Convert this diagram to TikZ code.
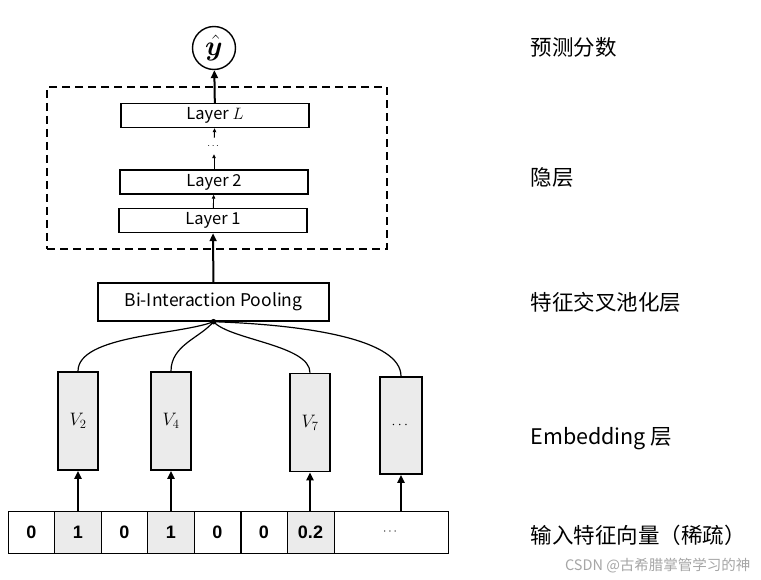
\RequirePackage{fix-cm}
\documentclass[tikz,border=0pt]{standalone}
\usepackage{amsmath,amssymb,bm}
\usepackage{fontspec}
\newfontfamily\cjk{Noto Sans CJK SC}
\newfontfamily\numfont{Liberation Sans}
\usetikzlibrary{arrows.meta, positioning}

\begin{document}
\begin{tikzpicture}[x=1pt, y=-1pt,
    layer/.style={draw, line width=1.4pt, minimum width=188pt,
                  minimum height=24pt, inner sep=0pt,
                  font=\fontsize{16.5}{19}\selectfont\cjk},
    emb/.style={draw, line width=1.6pt, fill=black!8, minimum width=40pt,
                minimum height=98pt, inner sep=0pt,
                font=\fontsize{18}{20}\selectfont},
    cell/.style={draw, line width=0.8pt, minimum width=47pt,
                 minimum height=42pt, inner sep=0pt,
                 font=\fontsize{18}{20}\selectfont\numfont\bfseries},
    frame/.style={draw, line width=2.4pt, dash pattern=on 8pt off 5pt,
                  minimum width=340pt, minimum height=162pt},
    bigarrow/.style={-{Triangle[length=8pt, width=7pt]}, line width=2pt},
    smallarrow/.style={-{Triangle[length=4pt, width=3.5pt]}, line width=0.9pt},
    label/.style={anchor=west, font=\fontsize{21.5}{24}\selectfont\cjk}
]
\fill[white] (0,0) rectangle (761,580);
\useasboundingbox (0,0) rectangle (761,580);

% Output
\node[draw, circle, line width=1.4pt, minimum size=43pt, inner sep=0pt,
      font=\fontsize{28}{30}\selectfont] (yhat) at (214,48) {$\bm{\hat{y}}$};

% Hidden layers
\node[frame] (hidden) at (217,168) {};
\node[layer] (hidL) at (215,115.5) {Layer $L$};
\node[inner sep=0pt, minimum height=16pt, font=\normalsize] (hdots) at (214,146) {$\cdots$};
\node[layer] (hid2) at (214,182) {Layer 2};
\node[layer] (hid1) at (213,220.5) {Layer 1};

% Bi-Interaction pooling
\node[draw, line width=1.4pt, minimum width=231pt, minimum height=38pt,
      inner sep=0pt, font=\fontsize{17.5}{20}\selectfont\cjk] (pool)
    at (213.5,302) {Bi-Interaction Pooling};

% Embedding vectors
\node[emb] (emb2) at (78,421) {$V_2$};
\node[emb] (emb4) at (171,421) {$V_4$};
\node[emb] (emb7) at (310,422.5) {$V_7$};
\node[emb, minimum width=42pt, minimum height=97pt, font=\fontsize{14}{16}\selectfont]
    (emb8) at (401,425.5) {$\cdots$};

% Sparse input
\node[cell] (in1) at (31.5,532) {0};
\node[cell, fill=black!8] (in2) at (78,532) {1};
\node[cell] (in3) at (124.5,532) {0};
\node[cell, fill=black!8] (in4) at (171,532) {1};
\node[cell] (in5) at (217.5,532) {0};
\node[cell] (in6) at (264,532) {0};
\node[cell, fill=black!8] (in7) at (310.5,532) {0.2};
\node[cell, minimum width=114pt, font=\fontsize{12}{14}\selectfont] (in8) at (391,532) {$\cdots$};

% Arrows
\draw[bigarrow] (hidL) -- (yhat);
\draw[smallarrow] (hdots) -- (hidL);
\draw[smallarrow] (hid2) -- (hdots);
\draw[smallarrow] (hid1) -- (hid2);
\draw[bigarrow] (pool) -- (hid1);
\draw[bigarrow] (in2) -- (emb2);
\draw[bigarrow] (in4) -- (emb4);
\draw[bigarrow] (emb7.south |- in7.north) -- (emb7.south);
\draw[bigarrow] (emb8.south |- in8.north) -- (emb8.south);

% Pairwise interaction wires
\draw[line width=1.2pt] (emb2.north) .. controls (78,335) and (180,335) .. (pool.south);
\draw[line width=1.2pt] (emb4.north) .. controls (171,345) and (200,338) .. (pool.south);
\draw[line width=1.2pt] (emb7.north) .. controls (310,345) and (230,340) .. (pool.south);
\draw[line width=1.2pt] (emb8.north) .. controls (401,340) and (310,325) .. (pool.south);
\fill (pool.south) circle (2.8pt);

% Row labels
\node[label] (lout) at (527,47) {预测分数};
\node[label] (lhid) at (527,178) {隐层};
\node[label] (lpool) at (527,302) {特征交叉池化层};
\node[label] (lemb) at (527,439) {Embedding 层};
\node[label] (lin) at (527,535) {输入特征向量（稀疏）};
\node[anchor=east, text=black!35, font=\fontsize{14.5}{16}\selectfont\cjk]
    (mark) at (754,566) {CSDN @古希腊掌管学习的神};

\end{tikzpicture}
\end{document}
